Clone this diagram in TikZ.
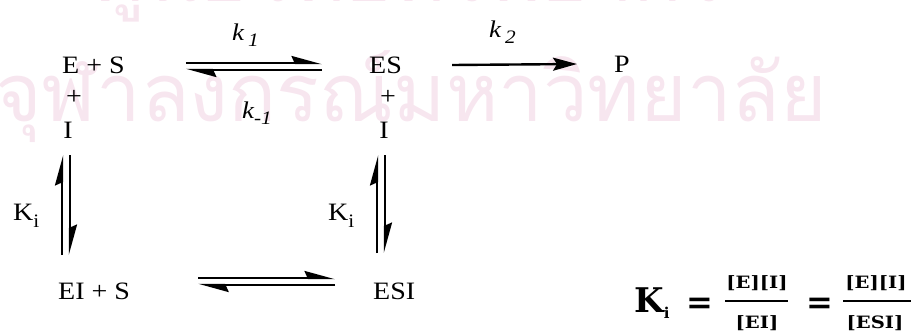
\documentclass[tikz,border=0pt]{standalone}
\usepackage{fontspec}
\setmainfont[FakeStretch=1.12]{Liberation Serif}
\newfontfamily\thaifont[Script=Thai]{Loma}
\newfontfamily\eqfont{DejaVu Serif}
\newfontfamily\fracfont[FakeStretch=1.15]{DejaVu Serif}
\usetikzlibrary{arrows.meta}
\definecolor{wmpink}{HTML}{F7E6EF}

\begin{document}
\begin{tikzpicture}[
    x=1pt, y=-1pt,
    chem/.style={font=\fontsize{25}{30}\selectfont, inner sep=0pt, anchor=base west},
    rate/.style={font=\fontsize{24}{28}\selectfont\itshape, inner sep=0pt, anchor=base west},
    wmark/.style={font=\thaifont\fontsize{80}{80}\selectfont, text=wmpink, inner sep=0pt, anchor=south west},
    eqpart/.style={font=\eqfont\bfseries\fontsize{#1}{#1}\selectfont, inner sep=0pt, anchor=base},
    harp/.style={line width=2.4pt, -{Stealth[harpoon, length=26pt, width=14pt, inset=3pt]}},
    fwd/.style={line width=2.4pt, -{Stealth[length=24pt, width=13pt, inset=4pt]}},
    fracbar/.style={line width=2.2pt}
]
\useasboundingbox (0,0) rectangle (911,333);
\clip (0,0) rectangle (911,333);

% watermark
\node[wmark] (wm1) at (94,22) {\resizebox*{631pt}{90pt}{ศูนย์วิทยทรัพยากร}};
\node[wmark] (wm2) at (-5,143) {\resizebox*{832pt}{92pt}{จุฬาลงกรณ์มหาวิทยาลัย}};

% species
\node[chem] (es) at (62,73) {E + S};
\node[chem, anchor=center] (esplus) at (74,97) {+};
\node[chem, anchor=base] (esI) at (68,138) {I};
\node[chem] (ES) at (369,73) {ES};
\node[chem, anchor=center] (ESplus) at (388,97) {+};
\node[chem, anchor=base] (ESI0) at (384,138) {I};
\node[chem] (prod) at (614,72) {P};
\node[chem] (eis) at (58,299) {EI + S};
\node[chem] (esi) at (373,299) {ESI};

% rate constants
\node[rate] (k1) at (232,40) {k\,\raisebox{-6pt}{\fontsize{19}{19}\selectfont 1}};
\node[rate] (km1) at (242,118) {k\raisebox{-6pt}{\fontsize{19}{19}\selectfont -1}};
\node[rate] (k2) at (489,37) {k\,\raisebox{-6pt}{\fontsize{19}{19}\selectfont 2}};
\node[chem] (kiL) at (13,220) {K\raisebox{-7pt}{\fontsize{19}{19}\selectfont i}};
\node[chem] (kiR) at (328,220) {K\raisebox{-7pt}{\fontsize{19}{19}\selectfont i}};

% equilibria
\draw[harp] ([xshift=61pt,yshift=10pt]es.base east) -- ([xshift=-47pt,yshift=10pt]ES.base west);
\draw[harp] ([xshift=-47pt,yshift=3pt]ES.base west) -- ([xshift=61pt,yshift=3pt]es.base east);
\draw[fwd] ([xshift=50pt,yshift=8pt]ES.base east) -- ([xshift=-37pt,yshift=8pt]prod.base west);

\draw[harp] ([xshift=-6pt,yshift=-117pt]esI.base) -- ([xshift=-6pt,yshift=-17pt]esI.base);
\draw[harp] ([xshift=2pt,yshift=-17pt]esI.base) -- ([xshift=2pt,yshift=-117pt]esI.base);
\draw[harp] ([xshift=-7pt,yshift=-115pt]ESI0.base) -- ([xshift=-7pt,yshift=-17pt]ESI0.base);
\draw[harp] ([xshift=1pt,yshift=-17pt]ESI0.base) -- ([xshift=1pt,yshift=-115pt]ESI0.base);

\draw[harp] ([xshift=68pt,yshift=21pt]eis.base east) -- ([xshift=-38pt,yshift=21pt]esi.base west);
\draw[harp] ([xshift=-38pt,yshift=14pt]esi.base west) -- ([xshift=68pt,yshift=14pt]eis.base east);

% dissociation constant
\node[eqpart=34, anchor=base west] (kform) at (634,312) {K\raisebox{-6pt}{\fontsize{15}{15}\selectfont i}};
\node[eqpart=32] (eq1) at (700,313) {=};
\node[eqpart=32] (eq2) at (820,313) {=};
\node[eqpart=17, font=\fracfont\bfseries\fontsize{17}{17}\selectfont] (num1) at (757,288) {[E][I]};
\node[eqpart=17, font=\fracfont\bfseries\fontsize{17}{17}\selectfont] (den1) at (757,328) {[EI]};
\node[eqpart=17, font=\fracfont\bfseries\fontsize{17}{17}\selectfont] (num2) at (876,288) {[E][I]};
\node[eqpart=17, font=\fracfont\bfseries\fontsize{17}{17}\selectfont] (den2) at (875,328) {[ESI]};
\draw[fracbar] (725,301) -- (788,301);
\draw[fracbar] (843,301) -- (911,301);

\end{tikzpicture}
\end{document}
